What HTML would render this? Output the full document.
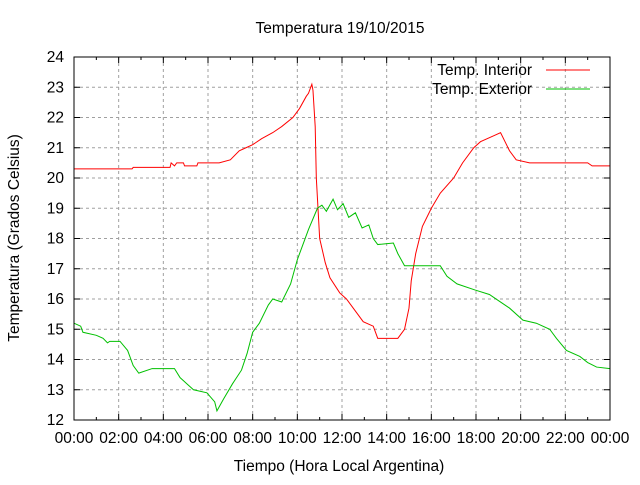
<!DOCTYPE html>
<html><head><meta charset="utf-8"><style>
body{margin:0;background:#fff}
svg text{font-family:"Liberation Sans",sans-serif;font-size:15.5px;fill:#000}
</style></head><body>
<svg id="chart" width="640" height="480" viewBox="0 0 640 480" xmlns="http://www.w3.org/2000/svg">
<rect width="640" height="480" fill="#fff"/>
<text x="340" y="33" text-anchor="middle">Temperatura 19/10/2015</text>
<text x="339" y="471" text-anchor="middle">Tiempo (Hora Local Argentina)</text>
<text transform="translate(19,238) rotate(-90)" text-anchor="middle">Temperatura (Grados Celsius)</text>
<g id="grid"></g><g id="ticks"></g><g id="series"></g>
<rect x="74" y="57" width="536" height="363" fill="none" stroke="#000" stroke-width="1"/>
<g>
<text x="532" y="75" text-anchor="end">Temp. Interior</text>
<line x1="546" y1="70" x2="590" y2="70" stroke="#ff0000"/>
<text x="532" y="94" text-anchor="end">Temp. Exterior</text>
<line x1="546" y1="89" x2="590" y2="89" stroke="#00c000"/>
</g>
</svg>
<script>
const xTickLabels=["00:00","02:00","04:00","06:00","08:00","10:00","12:00","14:00","16:00","18:00","20:00","22:00","00:00"];
const yTickValues=[12,13,14,15,16,17,18,19,20,21,22,23,24];
const interiorHours=[0,2.6,2.65,4.3,4.35,4.5,4.6,4.9,4.95,5.5,5.55,6.5,7.0,7.4,7.7,8.0,8.4,8.9,9.3,9.8,10.1,10.4,10.5,10.65,10.7,10.8,10.85,11.0,11.25,11.46,11.9,12.2,12.6,12.95,13.4,13.6,14.5,14.8,15.0,15.1,15.3,15.6,16.0,16.4,17.0,17.4,17.9,18.2,18.8,19.1,19.3,19.5,19.8,20.4,23.0,23.2,24];
const interiorValues=[20.3,20.3,20.35,20.35,20.5,20.4,20.5,20.5,20.4,20.4,20.5,20.5,20.6,20.9,21.0,21.1,21.3,21.5,21.7,22.0,22.3,22.7,22.8,23.1,22.9,21.7,20.0,18.0,17.2,16.7,16.2,16.0,15.6,15.25,15.1,14.7,14.7,15.0,15.7,16.6,17.5,18.4,19.0,19.5,20.0,20.5,21.0,21.2,21.4,21.5,21.2,20.9,20.6,20.5,20.5,20.4,20.4];
const exteriorHours=[0,0.3,0.4,1.0,1.3,1.5,1.6,2.06,2.4,2.65,2.9,3.5,4.5,4.75,5.05,5.35,5.95,6.3,6.4,6.7,7.1,7.5,7.75,8.0,8.3,8.7,8.9,9.3,9.7,10.0,10.3,10.5,10.9,11.1,11.3,11.6,11.8,12.05,12.3,12.6,12.9,13.2,13.4,13.6,14.3,14.5,14.8,16.4,16.7,17.15,17.95,18.6,19.1,19.5,20.1,20.7,21.3,21.6,22.05,22.65,23.0,23.4,24];
const exteriorValues=[15.2,15.1,14.9,14.8,14.7,14.55,14.6,14.6,14.3,13.8,13.55,13.7,13.7,13.4,13.2,13.0,12.9,12.6,12.3,12.7,13.2,13.65,14.2,14.9,15.2,15.8,16.0,15.9,16.5,17.3,17.9,18.3,19.0,19.1,18.9,19.3,18.95,19.15,18.7,18.85,18.35,18.45,18.0,17.8,17.85,17.5,17.1,17.1,16.75,16.5,16.3,16.15,15.9,15.7,15.3,15.2,15.0,14.7,14.3,14.1,13.9,13.75,13.7];
const X0=74,X1=610,Y0=420,Y1=57;
const xScale=h=>X0+h/24*(X1-X0);
const yScale=v=>Y0-(v-12)/12*(Y0-Y1);
const NS="http://www.w3.org/2000/svg";
const grid=document.getElementById('grid'),ticks=document.getElementById('ticks'),series=document.getElementById('series');
function mk(tag,parent){const e=document.createElementNS(NS,tag);parent.appendChild(e);return e;}
xTickLabels.forEach((lab,i)=>{
  const x=xScale(i*2);
  if(i>0&&i<xTickLabels.length-1){const g=mk('line',grid);
    
    
    g.setAttribute('x1',x);g.setAttribute('x2',x);g.setAttribute('y1',Y1);g.setAttribute('y2',Y0);
    g.setAttribute('stroke','#a0a0a0');g.setAttribute('stroke-dasharray','3,3');}
  [[Y0,Y0-6],[Y1,Y1+6]].forEach(p=>{const t=mk('line',ticks);t.setAttribute('x1',x);t.setAttribute('x2',x);t.setAttribute('y1',p[0]);t.setAttribute('y2',p[1]);t.setAttribute('stroke','#000');});
  if(i<xTickLabels.length-1){const xm=xScale(i*2+1);
    [[Y0,Y0-3],[Y1,Y1+3]].forEach(p=>{const t=mk('line',ticks);t.setAttribute('x1',xm);t.setAttribute('x2',xm);t.setAttribute('y1',p[0]);t.setAttribute('y2',p[1]);t.setAttribute('stroke','#000');});}
  const t=mk('text',ticks);
  
  
  t.setAttribute('x',x);t.setAttribute('y',443);t.setAttribute('text-anchor','middle');t.textContent=lab;
});
yTickValues.forEach(v=>{
  const y=yScale(v);
  if(v>12&&v<24){const g=mk('line',grid);
    
    
    g.setAttribute('x1',X0);g.setAttribute('x2',X1);g.setAttribute('y1',y);g.setAttribute('y2',y);
    g.setAttribute('stroke','#a0a0a0');g.setAttribute('stroke-dasharray','3,3');}
  [[X0,X0+6],[X1,X1-6]].forEach(p=>{const t=mk('line',ticks);t.setAttribute('x1',p[0]);t.setAttribute('x2',p[1]);t.setAttribute('y1',y);t.setAttribute('y2',y);t.setAttribute('stroke','#000');});
  const t=mk('text',ticks);
  
  
  t.setAttribute('x',64);t.setAttribute('y',y+5);t.setAttribute('text-anchor','end');t.textContent=v;
});
function linePath(hs,vs){let d='M'+xScale(hs[0])+','+yScale(vs[0]);
  for(let i=1;i<hs.length;i++){d+=' L'+xScale(hs[i])+','+yScale(vs[i]);}return d;}
const pi=mk('path',series);


pi.setAttribute('d',linePath(interiorHours,interiorValues));pi.setAttribute('fill','none');pi.setAttribute('stroke','#ff0000');
const pe=mk('path',series);


pe.setAttribute('d',linePath(exteriorHours,exteriorValues));pe.setAttribute('fill','none');pe.setAttribute('stroke','#00c000');
</script>
</body></html>
